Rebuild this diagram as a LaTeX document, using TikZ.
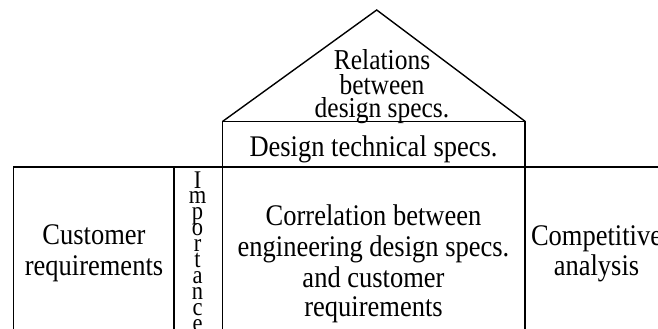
\documentclass[tikz,border=0pt]{standalone}
\usepackage{graphicx}
\usepackage{fontspec}
\setmainfont{Liberation Serif}
\newcommand{\tallstretch}[1]{\scalebox{1}[1.13]{#1}}
\tikzset{
  frame/.style={line width=1.7pt, line cap=rect},
  roofline/.style={line width=1.4pt},
  big/.style={font=\fontsize{26.5}{30}\selectfont, inner sep=0pt, anchor=base},
  roof/.style={font=\fontsize{25.5}{28}\selectfont, inner sep=0pt, anchor=base},
  vletter/.style={font=\fontsize{22.5}{24}\selectfont, inner sep=0pt, anchor=base},
}
\begin{document}
\begin{tikzpicture}[x=1pt,y=-1pt]
\useasboundingbox (0,0) rectangle (658,329);
\clip (0,0) rectangle (658,329);
% key points
\coordinate (apex) at (376.7,10);
\coordinate (rl) at (222.5,121.5);
\coordinate (rr) at (525.3,121.5);
\coordinate (fl) at (13.5,166.7);
\coordinate (fr) at (660,166.7);
\coordinate (dv) at (174.3,166.7);
\coordinate (bl) at (13.5,335);
\coordinate (bd) at (174.3,335);
\coordinate (bml) at (222.5,335);
\coordinate (bmr) at (525.3,335);
% roof
\draw[roofline, line join=miter] (rl) -- (apex) -- (rr);
% boxes
\draw[frame] (rl) -- (rr);
\draw[frame] (rl) -- (bml);
\draw[frame] (rr) -- (bmr);
\draw[frame] (fl) -- (fr);
\draw[frame] (fl) -- (bl);
\draw[frame] (dv) -- (bd);
% texts
\node[roof] (r1) at (382,70) {\tallstretch{Relations}};
\node[roof] (r2) at (382,94) {\tallstretch{between}};
\node[roof] (r3) at (382,117.5) {\tallstretch{design specs.}};
\node[big] (tech) at (373.5,156.7) {\tallstretch{Design technical specs.}};
\node[big] (c1) at (373.5,225) {\tallstretch{Correlation between}};
\node[big] (c2) at (373.5,256) {\tallstretch{engineering design specs.}};
\node[big] (c3) at (373.5,287) {\tallstretch{and customer}};
\node[big] (c4) at (373.5,316.5) {\tallstretch{requirements}};
\node[big] (cr1) at (94,244.3) {\tallstretch{Customer}};
\node[big] (cr2) at (94,275) {\tallstretch{requirements}};
\node[big] (ca1) at (596.5,245) {\tallstretch{Competitive}};
\node[big] (ca2) at (596.5,275) {\tallstretch{analysis}};
\foreach \ch [count=\i from 0] in {I,m,p,o,r,t,a,n,c,e}{
  \node[vletter] (imp\i) at (197.5,188+15.9*\i) {\tallstretch{\ch}};
}
\end{tikzpicture}
\end{document}
